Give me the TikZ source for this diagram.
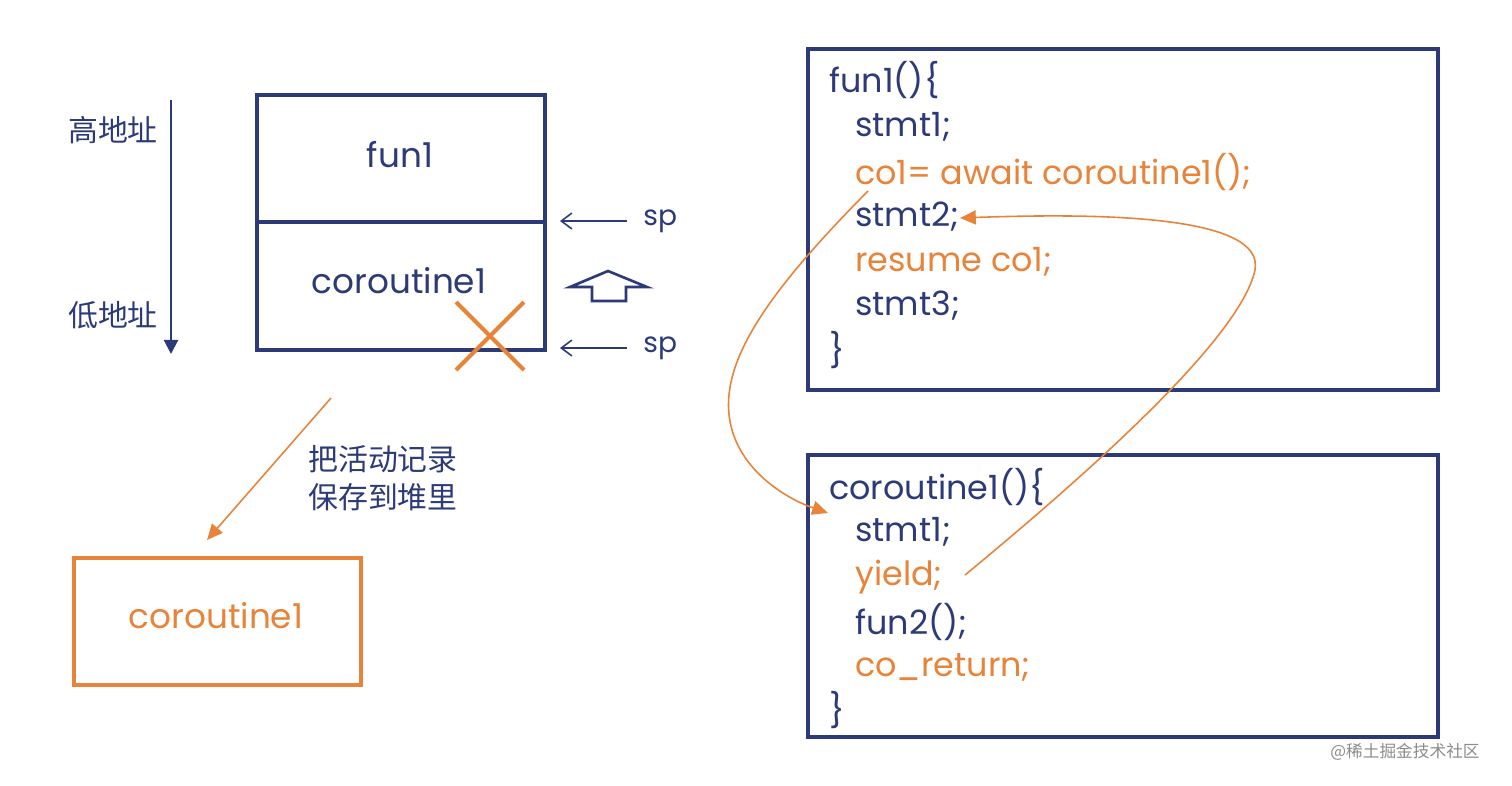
\documentclass[tikz,border=0pt]{standalone}
\usepackage{fontspec}
\setmainfont{Poppins}
\newfontfamily\cjk{Noto Sans CJK SC}
\usetikzlibrary{arrows.meta}
\definecolor{navy}{RGB}{44,58,120}
\definecolor{org}{RGB}{232,131,58}
\begin{document}
\begin{tikzpicture}[x=0.02cm,y=-0.02cm,
  box/.style={draw=navy,line width=1.9pt},
  obox/.style={draw=org,line width=1.9pt},
  code/.style={anchor=west,inner sep=0pt,text=navy,font=\fontsize{19}{22}\selectfont},
  ocode/.style={code,text=org},
  lbl/.style={inner sep=0pt,text=navy,font=\fontsize{19.5}{22}\selectfont},
  splbl/.style={inner sep=0pt,text=navy,font=\fontsize{16}{18}\selectfont},
  cjklbl/.style={inner sep=0pt,text=navy,font=\cjk\fontsize{17}{22}\selectfont},
  sparrow/.style={draw=navy,line width=0.9pt,-{Straight Barb[length=6pt,width=9pt,line width=0.9pt]}},
  oarrow/.style={draw=org,line width=0.9pt,-{Triangle[length=9pt,width=8pt]}}
]
\useasboundingbox (0,0) rectangle (1512,785);
\fill[white] (0,0) rectangle (1512,785);

% address arrow
\coordinate (addrtop) at (171,100);
\coordinate (addrbot) at (171,354);
\draw[draw=navy,line width=1.2pt,-{Triangle[length=8pt,width=8pt]}] (addrtop) -- (addrbot);
\node[cjklbl] (hi) at (113,130) {高地址};
\node[cjklbl] (lo) at (113,315) {低地址};

% stack
\draw[box] (257,95) rectangle (545,350);
\draw[box] (257,222) -- (545,222);
\node[lbl] (sfun1) at (400,155) {fun1};
\node[lbl] (scor) at (399,281) {coroutine1};
\draw[draw=org,line width=2.3pt] (456,302) -- (524,370) (524,302) -- (456,370);

% sp arrows
\node[splbl,anchor=west] (sp1) at (643,221) {sp};
\node[splbl,anchor=west] (sp2) at (643,348) {sp};
\coordinate (sp1t) at (560,221);
\coordinate (sp2t) at (560,348);
\draw[sparrow] (sp1.west) ++(-16,0) -- (sp1t);
\draw[sparrow] (sp2.west) ++(-16,0) -- (sp2t);

% block up arrow
\draw[navy,line width=1.5pt,line join=miter] (570,287) -- (608,271) -- (647,287) -- (626,287) -- (626,301) -- (592,301) -- (592,287) -- cycle;

% heap
\coordinate (hs) at (331,398);
\coordinate (he) at (207,540);
\draw[oarrow] (hs) -- (he);
\node[cjklbl,anchor=west,align=left] (save) at (308,478) {把活动记录\\保存到堆里};
\draw[obox] (74,558) rectangle (361,685);
\node[lbl,text=org] (heap) at (216,616) {coroutine1};

% fun1 box
\draw[box] (808,49) rectangle (1438,390);
\node[code] (a0) at (829,80) {fun1()\{};
\node[code] (a1) at (855,127) {stmt1;};
\node[ocode] (a2) at (855,172) {co1= await coroutine1();};
\node[code] (a3) at (855,217) {stmt2;};
\node[ocode] (a4) at (855,262) {resume co1;};
\node[code] (a5) at (855,306) {stmt3;};
\node[code] (a6) at (829,350) {\}};

% coroutine1 box
\draw[box] (808,455) rectangle (1438,737);
\node[code] (b0) at (829,487) {coroutine1()\{};
\node[code] (b1) at (855,532) {stmt1;};
\node[ocode] (b2) at (855,577) {yield;};
\node[code] (b3) at (855,622) {fun2();};
\node[ocode] (b4) at (855,667) {co\_return;};
\node[code] (b5) at (829,710) {\}};

% curves
\coordinate (c1s) at (868,191);
\coordinate (c1e) at (828,513);
\draw[oarrow] (c1s) .. controls (760,300) and (715,370) .. (732,430) .. controls (745,475) and (790,500) .. (c1e);
\coordinate (c2s) at (965,575);
\coordinate (c2e) at (960,218);
\draw[oarrow] (c2s) .. controls (1080,480) and (1240,340) .. (1255,270) .. controls (1265,215) and (1100,213) .. (c2e);

% watermark
\node[inner sep=0pt,text=black!45,font=\cjk\fontsize{9.5}{11}\selectfont] (wm) at (1405,752) {@稀土掘金技术社区};
\end{tikzpicture}
\end{document}
